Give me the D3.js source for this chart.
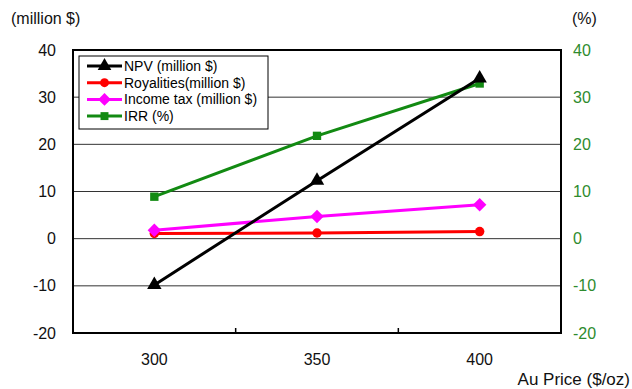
<!DOCTYPE html>
<html><head><meta charset="utf-8">
<script src="https://cdn.jsdelivr.net/npm/d3@7"></script>
<style>body{margin:0;background:#fff}svg{display:block}text{font-family:"Liberation Sans",Arial,sans-serif}</style>
</head><body><svg id="c" width="632" height="389"></svg>
<script>
const categories = ["300","350","400"];
const npv = [-9.8, 12.3, 34.0];
const royalties = [1.1, 1.2, 1.5];
const incomeTax = [1.8, 4.7, 7.2];
const irr = [8.9, 21.8, 32.9];
const leftTicks = [-20,-10,0,10,20,30,40];
const rightTicks = [-20,-10,0,10,20,30,40];
const seriesNames = ["NPV (million $)","Royalities(million $)","Income tax (million $)","IRR (%)"];

const svg = d3.select("#c");
const m = {l:73, r:561, t:50, b:333};
const x = d3.scaleBand().domain(categories).range([m.l, m.r]);
const y = d3.scaleLinear().domain([-20,40]).range([m.b, m.t]);
const y2 = d3.scaleLinear().domain([-20,40]).range([m.b, m.t]);
const fmt = d => String(d);

svg.append("g").selectAll("line").data(leftTicks.filter(d=>d>-20 && d<40)).join("line")
  .attr("x1",m.l).attr("x2",m.r).attr("y1",d=>y(d)).attr("y2",d=>y(d))
  .attr("stroke","#333").attr("stroke-width",1);

const bounds = [x.range()[0]+x.bandwidth(), x.range()[0]+2*x.bandwidth()];
svg.append("g").selectAll("line").data(bounds).join("line")
  .attr("x1",d=>d).attr("x2",d=>d).attr("y1",m.b-5).attr("y2",m.b).attr("stroke","#000").attr("stroke-width",1.5);

svg.append("rect").attr("x",m.l).attr("y",m.t).attr("width",m.r-m.l).attr("height",m.b-m.t)
  .attr("fill","none").attr("stroke","#000").attr("stroke-width",2);

const la = d3.axisLeft(y).tickValues(leftTicks).tickFormat(fmt).tickSize(0).tickPadding(17);
const gL = svg.append("g").attr("transform",`translate(${m.l},0)`).call(la);
gL.select(".domain").remove();
gL.selectAll("text").attr("font-size",16).attr("fill","#111");

const ra = d3.axisRight(y2).tickValues(rightTicks).tickFormat(fmt).tickSize(0).tickPadding(12);
const gR = svg.append("g").attr("transform",`translate(${m.r},0)`).call(ra);
gR.select(".domain").remove();
gR.selectAll("text").attr("font-size",16).attr("fill","#2e8b2e");

const xa = d3.axisBottom(x).tickSize(0).tickPadding(21);
const gX = svg.append("g").attr("transform",`translate(0,${m.b})`).call(xa);
gX.select(".domain").remove();
gX.selectAll("text").attr("font-size",16).attr("fill","#111");

svg.append("text").attr("x",11).attr("y",24).attr("font-size",16).attr("fill","#111").text("(million $)");
svg.append("text").attr("x",572).attr("y",24).attr("font-size",16).attr("fill","#111").text("(%)");
svg.append("text").attr("x",630).attr("y",385).attr("text-anchor","end").attr("font-size",17).attr("fill","#111").text("Au Price ($/oz)");

const diamond = {draw(ctx, size){const r=Math.sqrt(size/2);ctx.moveTo(0,-r);ctx.lineTo(r,0);ctx.lineTo(0,r);ctx.lineTo(-r,0);ctx.closePath();}};
const series = [
  {name:seriesNames[0], vals:npv, color:"#000", sym:d3.symbolTriangle, size:90, sc:y},
  {name:seriesNames[1], vals:royalties, color:"#ff0000", sym:d3.symbolCircle, size:70, sc:y},
  {name:seriesNames[2], vals:incomeTax, color:"#ff00ff", sym:diamond, size:90, sc:y},
  {name:seriesNames[3], vals:irr, color:"#128a12", sym:d3.symbolSquare, size:70, sc:y2},
];
const cx = d => x(d)+x.bandwidth()/2;
const drawOrder = [1,2,3,0];
drawOrder.forEach(i=>{
  const s = series[i];
  const data = categories.map((c,j)=>({c, v:s.vals[j]}));
  svg.append("path").datum(data).attr("fill","none").attr("stroke",s.color).attr("stroke-width",3)
    .attr("d", d3.line().x(d=>cx(d.c)).y(d=>s.sc(d.v)));
  svg.append("g").selectAll("path").data(data).join("path")
    .attr("transform",d=>`translate(${cx(d.c)},${s.sc(d.v)})`)
    .attr("d", d3.symbol().type(s.sym).size(s.size)).attr("fill",s.color);
});

const lg = svg.append("g");
lg.append("rect").attr("x",79).attr("y",56).attr("width",189).attr("height",73)
  .attr("fill","#fff").attr("stroke","#000").attr("stroke-width",1);
series.forEach((s,i)=>{
  const yy = 66 + i*16.7;
  lg.append("line").attr("x1",87).attr("x2",122).attr("y1",yy).attr("y2",yy).attr("stroke",s.color).attr("stroke-width",3);
  lg.append("path").attr("transform",`translate(104.5,${yy})`).attr("d",d3.symbol().type(s.sym).size(s.size*0.9)).attr("fill",s.color);
  lg.append("text").attr("x",124).attr("y",yy+5).attr("font-size",14).attr("fill","#000").text(s.name);
});
</script></body></html>
